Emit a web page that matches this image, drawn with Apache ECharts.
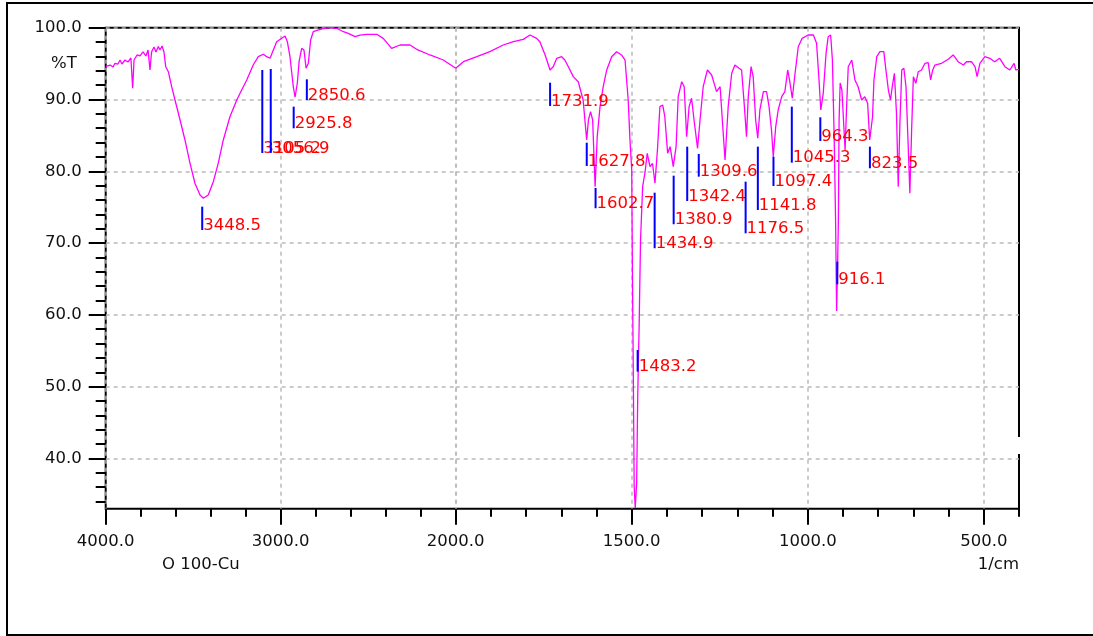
<!DOCTYPE html>
<html>
<head>
<meta charset="utf-8">
<title>IR spectrum 100-Cu</title>
<script src="https://cdn.jsdelivr.net/npm/echarts@6/dist/echarts.min.js"></script>
<style>
  html, body { margin: 0; padding: 0; background: #fff; }
  #chart { width: 1093px; height: 636px; }
</style>
</head>
<body>
<div id="chart"></div>
<script>
// spectrum (1/cm, %T)
var wavenumber = [
  4000, 3975, 3958, 3947, 3930, 3918, 3907, 3890, 3873, 3856, 3846, 3838, 3821, 3804, 3787, 3770,
  3758, 3747, 3738, 3724, 3713, 3699, 3690, 3678, 3667, 3657, 3642, 3623, 3604, 3575, 3547, 3518,
  3490, 3461, 3442, 3414, 3385, 3357, 3328, 3290, 3251, 3223, 3194, 3157, 3128, 3099, 3080, 3061,
  3042, 3023, 2994, 2975, 2962, 2947, 2928, 2918, 2905, 2895, 2880, 2867, 2855, 2842, 2829, 2814,
  2775, 2728, 2680, 2642, 2614, 2575, 2547, 2509, 2451, 2414, 2366, 2318, 2261, 2223, 2147, 2071,
  2000,
  1978, 1940, 1903, 1865, 1836, 1808, 1789, 1770, 1761, 1746, 1732, 1723, 1713, 1699, 1690, 1680,
  1666, 1652, 1647, 1638, 1628, 1623, 1617, 1611, 1604, 1598, 1590, 1581, 1571, 1557, 1543, 1529,
  1519, 1510, 1505, 1500, 1498, 1496, 1493, 1490, 1486, 1483, 1479, 1475, 1469, 1462, 1456, 1448,
  1441, 1434, 1427, 1420, 1412, 1406, 1398, 1391, 1382, 1374, 1368, 1358, 1351, 1344, 1337, 1330,
  1323, 1313, 1306, 1297, 1285, 1273, 1259, 1249, 1235, 1226, 1216, 1207, 1195, 1188, 1180, 1174,
  1169, 1161, 1155, 1148, 1142, 1136, 1126, 1117, 1110, 1103, 1098, 1091, 1084, 1074, 1065, 1057,
  1051, 1044, 1036, 1027, 1016, 999, 984, 975, 968, 963, 956, 948, 942, 935, 930, 925,
  921, 918, 915, 913, 911, 908, 903, 897, 894, 890, 885, 875, 866, 857, 847, 838,
  830, 824, 816, 812, 804, 795, 784, 778, 771, 765, 760, 754, 748, 743, 738, 733,
  727, 721, 716, 710, 705, 700, 693, 686, 677, 667, 658, 651, 645, 639, 620, 601,
  587, 573, 558, 549, 535, 525, 519, 511, 497, 483, 469, 455, 440, 426, 414, 409,
  400
];
var transmittance = [
  94.57, 94.80, 94.53, 95.04, 94.94, 95.50, 94.94, 95.50, 95.22, 95.78, 91.56, 95.50, 96.20, 96.06, 96.62, 96.06,
  96.89, 94.11, 96.62, 97.31, 96.62, 97.38, 96.89, 97.45, 96.62, 94.57, 93.87, 91.78, 89.93, 87.14, 84.36, 81.11,
  78.33, 76.70, 76.24, 76.70, 78.55, 81.11, 84.36, 87.60, 89.93, 91.32, 92.72, 94.80, 95.96, 96.30, 95.96, 95.74,
  96.89, 98.05, 98.52, 98.84, 98.05, 95.96, 91.78, 90.31, 92.26, 95.26, 97.13, 96.89, 94.35, 95.04, 98.29, 99.44,
  99.78, 100.0, 99.92, 99.44, 99.22, 98.75, 98.98, 99.08, 99.08, 98.52, 97.13, 97.59, 97.59, 96.99, 96.20, 95.50,
  94.35,
  95.26, 95.96, 96.66, 97.59, 98.05, 98.38, 98.98, 98.52, 98.05, 96.20, 94.11, 94.57, 95.74, 95.96, 95.50, 94.57,
  93.18, 92.48, 91.56, 89.93, 84.36, 87.14, 88.30, 87.14, 77.85, 84.82, 89.00, 91.78, 94.11, 95.96, 96.66, 96.20,
  95.50, 89.93, 84.36, 80.18, 65.32, 54.65, 36.07, 33.10, 36.54, 48.61, 58.36, 70.43, 77.85, 79.94, 82.51, 80.64,
  81.11, 78.33, 82.97, 89.00, 89.23, 87.60, 82.51, 83.43, 80.64, 83.43, 90.39, 92.48, 91.78, 84.82, 89.00, 90.17,
  87.14, 83.20, 87.14, 91.78, 94.11, 93.41, 91.09, 91.78, 81.57, 89.00, 93.65, 94.80, 94.35, 94.11, 89.00, 84.82,
  90.39, 94.57, 93.18, 87.14, 84.60, 88.54, 91.09, 91.09, 89.00, 85.75, 82.03, 86.21, 88.54, 90.39, 91.09, 94.11,
  92.48, 90.17, 93.65, 97.35, 98.52, 98.98, 98.98, 97.83, 92.72, 88.54, 90.86, 96.43, 98.75, 98.98, 95.50, 84.82,
  73.22, 60.54, 67.64, 73.22, 87.14, 92.30, 91.32, 85.75, 82.97, 88.54, 94.57, 95.50, 92.72, 91.78, 89.93, 90.39,
  89.47, 84.36, 87.60, 92.72, 95.96, 96.66, 96.66, 94.11, 91.32, 89.93, 91.78, 93.65, 88.08, 77.85, 87.14, 94.11,
  94.35, 91.78, 85.29, 76.94, 85.75, 93.18, 92.26, 93.87, 94.11, 95.04, 95.13, 92.72, 94.11, 94.80, 95.04, 95.60,
  96.20, 95.26, 94.80, 95.26, 95.26, 94.57, 93.18, 95.04, 95.96, 95.74, 95.26, 95.74, 94.57, 94.11, 95.04, 94.11,
  94.21
];

// peak picks: position, top and bottom of the blue marker (%T)
var peakWavenumber = [3448.5, 3105.2, 3056.9, 2925.8, 2850.6, 1731.9, 1627.8, 1602.7, 1483.2, 1434.9,
  1380.9, 1342.4, 1309.6, 1176.5, 1141.8, 1097.4, 1045.3, 964.3, 916.1, 823.5];
var peakTop = [75.07, 94.11, 94.25, 89.0, 92.81, 92.34, 83.98, 77.67, 55.11, 77.02,
  79.39, 83.43, 82.41, 78.55, 83.43, 82.03, 89.0, 87.52, 67.41, 83.43];
var peakBottom = [71.82, 82.55, 82.55, 85.99, 89.93, 89.09, 80.74, 74.85, 52.09, 69.28,
  72.62, 75.86, 79.25, 71.36, 74.61, 77.95, 81.2, 84.22, 64.26, 80.42];

// axis ticks
var yMajorTicks = [40, 50, 60, 70, 80, 90, 100];
var yMinorTicks = [];
for (var t = 34; t <= 100; t += 2) yMinorTicks.push(t);
var xLowMajorTicks = [2000, 1500, 1000, 500];

var FONT = 'DejaVu Sans';
var FS = 16.5;

var highPart = [], lowPart = [];
for (var i = 0; i < wavenumber.length; i++) {
  if (wavenumber[i] >= 2000) highPart.push([wavenumber[i], transmittance[i]]);
  if (wavenumber[i] <= 2000) lowPart.push([wavenumber[i], transmittance[i]]);
}
var highPeaks = [], lowPeaks = [];
peakWavenumber.forEach(function (w, k) {
  (w > 2000 ? highPeaks : lowPeaks).push([w, peakTop[k], peakBottom[k], k]);
});

function renderPeak(params, api) {
  var a = api.coord([api.value(0), api.value(1)]);
  var b = api.coord([api.value(0), api.value(2)]);
  return {
    type: 'group',
    children: [
      { type: 'line', shape: { x1: a[0], y1: a[1], x2: b[0], y2: b[1] },
        style: { stroke: '#0000ff', lineWidth: 2 } },
      { type: 'text', style: {
          text: peakWavenumber[api.value(3)].toFixed(1),
          x: b[0] + 1, y: b[1] - 4.5,
          fill: '#ff0000', fontSize: FS, fontFamily: FONT,
          align: 'left', verticalAlign: 'middle' } }
    ]
  };
}

var dashed = { show: true, lineStyle: { color: '#bbbbbb', width: 1.5, type: [4, 4] } };
var tickStyle = { color: '#000', width: 2 };
var labelStyle = { color: '#111', fontSize: FS, fontFamily: FONT };

var option = {
  animation: false,
  backgroundColor: '#fff',
  grid: [
    { left: 105.7, top: 27.7, width: 350, height: 481 },
    { left: 455.7, top: 27.7, width: 563.3, height: 481 },
    { left: 105.7, top: 27.7, width: 913.3, height: 481, show: true,
      borderColor: '#000', borderWidth: 2, backgroundColor: 'transparent' }
  ],
  xAxis: [
    { gridIndex: 0, type: 'value', min: 2000, max: 4000, interval: 1000, inverse: true,
      position: 'bottom', axisLine: { show: false, onZero: false },
      axisTick: { show: true, length: 16, lineStyle: tickStyle },
      minorTick: { show: true, splitNumber: 5, length: 8, lineStyle: tickStyle },
      axisLabel: Object.assign({ margin: 25, formatter: function (v) { return v === 2000 ? '' : v.toFixed(1); } }, labelStyle),
      splitLine: dashed },
    { gridIndex: 1, type: 'value', min: 400, max: 2000, inverse: true,
      position: 'bottom', axisLine: { show: false, onZero: false },
      axisTick: { show: true, length: 16, lineStyle: tickStyle, customValues: xLowMajorTicks },
      axisLabel: Object.assign({ margin: 25, customValues: xLowMajorTicks,
        formatter: function (v) { return v.toFixed(1); } }, labelStyle),
      splitLine: dashed },
    { gridIndex: 1, type: 'value', min: 400, max: 2000, interval: 100, inverse: true,
      position: 'bottom', axisLine: { show: false, onZero: false },
      axisTick: { show: true, length: 8, lineStyle: tickStyle },
      axisLabel: { show: false }, splitLine: { show: false } },
    { gridIndex: 2, type: 'value', min: 0, max: 1, show: false }
  ],
  yAxis: [
    { gridIndex: 0, type: 'value', min: 33, max: 100, position: 'left',
      axisLine: { show: false, onZero: false },
      axisTick: { show: true, length: 17, lineStyle: tickStyle, customValues: yMajorTicks },
      axisLabel: Object.assign({ margin: 24, customValues: yMajorTicks,
        formatter: function (v) { return v.toFixed(1); } }, labelStyle),
      splitLine: dashed },
    { gridIndex: 0, type: 'value', min: 33, max: 100, position: 'left',
      axisLine: { show: false, onZero: false },
      axisTick: { show: true, length: 10, lineStyle: tickStyle, customValues: yMinorTicks },
      axisLabel: { show: false }, splitLine: { show: false } },
    { gridIndex: 1, type: 'value', min: 33, max: 100, position: 'left',
      axisLine: { show: false, onZero: false },
      axisTick: { show: false, customValues: yMajorTicks },
      axisLabel: { show: false }, splitLine: dashed },
    { gridIndex: 2, type: 'value', min: 0, max: 1, show: false }
  ],
  graphic: [
    { type: 'rect', shape: { x: 7, y: 3, width: 1100, height: 632 },
      style: { fill: 'none', stroke: '#000', lineWidth: 2 }, z: 100 },
    { type: 'rect', shape: { x: 1016, y: 437, width: 6, height: 17 },
      style: { fill: '#fff' }, z: 100 },
    { type: 'text', x: 51, y: 64, z: 100,
      style: { text: '%T', fill: '#111', fontSize: FS, fontFamily: FONT, verticalAlign: 'middle' } },
    { type: 'text', x: 162, y: 565, z: 100,
      style: { text: 'O 100-Cu', fill: '#111', fontSize: FS, fontFamily: FONT, verticalAlign: 'middle' } },
    { type: 'text', x: 1019, y: 565, z: 100,
      style: { text: '1/cm', fill: '#111', fontSize: FS, fontFamily: FONT, align: 'right', verticalAlign: 'middle' } }
  ],
  series: [
    { type: 'line', xAxisIndex: 0, yAxisIndex: 0, data: highPart, showSymbol: false,
      lineStyle: { color: '#ff00ff', width: 1.3 }, clip: true, z: 3 },
    { type: 'line', xAxisIndex: 1, yAxisIndex: 2, data: lowPart, showSymbol: false,
      lineStyle: { color: '#ff00ff', width: 1.3 }, clip: true, z: 3 },
    { type: 'custom', xAxisIndex: 0, yAxisIndex: 0, data: highPeaks, renderItem: renderPeak, z: 5 },
    { type: 'custom', xAxisIndex: 1, yAxisIndex: 2, data: lowPeaks, renderItem: renderPeak, z: 5 }
  ]
};

var myChart = echarts.init(document.getElementById('chart'));
myChart.setOption(option);
</script>
</body>
</html>
